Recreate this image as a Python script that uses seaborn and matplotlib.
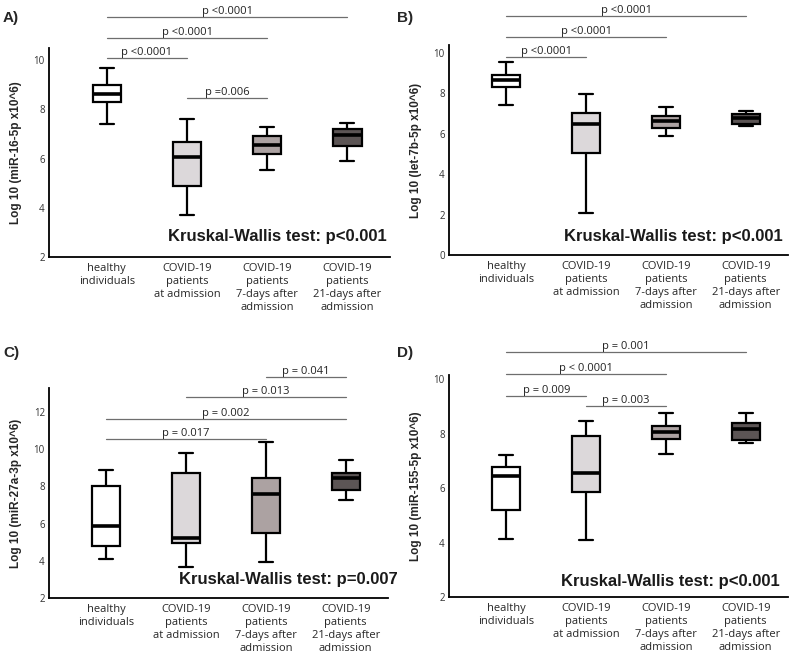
import pandas as pd
import matplotlib
matplotlib.use("Agg")
import matplotlib.pyplot as plt
import seaborn as sns

# Groups on the x axis
categories = [
    "healthy\nindividuals",
    "COVID-19\npatients\nat admission",
    "COVID-19\npatients\n7-days after\nadmission",
    "COVID-19\npatients\n21-days after\nadmission",
]
box_colors = ["#ffffff", "#dcd8da", "#aca2a2", "#5c5555"]

# Box summaries: [min, Q1, median, Q3, max] per group
mir16_boxes = [
    [7.42, 8.29, 8.64, 8.99, 9.69],
    [3.72, 4.88, 6.08, 6.68, 7.62],
    [5.52, 6.20, 6.54, 6.93, 7.27],
    [5.89, 6.52, 6.95, 7.22, 7.43],
]
let7b_boxes = [
    [7.42, 8.30, 8.65, 8.92, 9.55],
    [2.10, 5.05, 6.47, 7.03, 7.95],
    [5.87, 6.30, 6.63, 6.88, 7.33],
    [6.37, 6.50, 6.80, 7.00, 7.15],
]
mir27a_boxes = [
    [4.10, 4.78, 5.90, 8.00, 8.89],
    [3.65, 4.97, 5.24, 8.70, 9.80],
    [3.95, 5.50, 7.62, 8.48, 10.40],
    [7.30, 7.80, 8.45, 8.72, 9.40],
]
mir155_boxes = [
    [4.14, 5.19, 6.46, 6.79, 7.22],
    [4.08, 5.84, 6.54, 7.91, 8.46],
    [7.26, 7.81, 8.06, 8.28, 8.74],
    [7.66, 7.78, 8.16, 8.37, 8.74],
]

# Pairwise comparisons: (from group, to group, label)
mir16_pairs = [(0, 3, "p <0.0001"), (0, 2, "p <0.0001"), (0, 1, "p <0.0001"), (1, 2, "p =0.006")]
let7b_pairs = [(0, 3, "p <0.0001"), (0, 2, "p <0.0001"), (0, 1, "p <0.0001")]
mir27a_pairs = [(2, 3, "p = 0.041"), (1, 3, "p = 0.013"), (0, 3, "p = 0.002"), (0, 2, "p = 0.017")]
mir155_pairs = [(0, 3, "p = 0.001"), (0, 2, "p < 0.0001"), (0, 1, "p = 0.009"), (1, 2, "p = 0.003")]

# Height of each comparison line (data units)
mir16_line_y = [11.76, 10.90, 10.09, 8.46]
let7b_line_y = [11.86, 10.81, 9.82]
mir27a_line_y = [13.87, 12.80, 11.65, 10.58]
mir155_line_y = [11.01, 10.20, 9.38, 9.03]

kw_labels = [
    "Kruskal-Wallis test: p<0.001",
    "Kruskal-Wallis test: p<0.001",
    "Kruskal-Wallis test: p=0.007",
    "Kruskal-Wallis test: p<0.001",
]
y_labels = [
    "Log 10 (miR-16-5p x10^6)",
    "Log 10 (let-7b-5p x10^6)",
    "Log 10 (miR-27a-3p x10^6)",
    "Log 10 (miR-155-5p x10^6)",
]

sns.set_style("white")
plt.rcParams["font.family"] = ["Open Sans", "DejaVu Sans"]

W, H = 800, 661
fig = plt.figure(figsize=(W / 100, H / 100), dpi=100)


def px_axes(left, top, right, bottom):
    return fig.add_axes([left / W, 1 - bottom / H, (right - left) / W, (bottom - top) / H])


def make_frame(boxes):
    rows = []
    for cat, vals in zip(categories, boxes):
        for v in vals:
            rows.append({"group": cat, "value": v})
    return pd.DataFrame(rows)


def draw_panel(ax, boxes, pairs, line_y, ylim, yticks, ylabel, kw_text, kw_pos):
    df = make_frame(boxes)
    sns.boxplot(
        data=df, x="group", y="value", hue="group", order=categories,
        hue_order=categories, palette=box_colors, legend=False, ax=ax,
        width=0.35, whis=(0, 100), linecolor="black", linewidth=1.6,
        medianprops={"linewidth": 2.6}, showfliers=False, saturation=1,
    )
    ax.set_xlim(-0.72, 3.53)
    ax.set_ylim(*ylim)
    ax.set_yticks(yticks)
    ax.set_yticklabels([str(t) for t in yticks], fontsize=7, color="#333333")
    ax.set_xticks(range(len(categories)))
    ax.set_xticklabels(categories, fontsize=8, linespacing=1.28)
    ax.tick_params(axis="both", length=0, pad=3)
    ax.tick_params(axis="x", pad=4)
    ax.set_xlabel("")
    ax.set_ylabel(ylabel, fontsize=8.5, fontweight="bold",
                  family=["Liberation Sans", "DejaVu Sans"], labelpad=8)
    sns.despine(ax=ax)
    for s in ["left", "bottom"]:
        ax.spines[s].set_linewidth(1.3)
        ax.spines[s].set_color("black")

    for (a, b, label), y in zip(pairs, line_y):
        ax.plot([a, b], [y, y], color="#6e6e6e", lw=0.9, clip_on=False)
        ax.text((a + b) / 2, y, label, ha="center", va="bottom", fontsize=8,
                color="#222222", clip_on=False)

    ax.text(kw_pos[0], kw_pos[1], kw_text, transform=ax.transAxes, ha="right",
            va="center", fontsize=12, fontweight="bold",
            family=["Liberation Sans", "DejaVu Sans"], color="#1a1a1a")


ax_a = px_axes(49, 48, 390, 257)
draw_panel(ax_a, mir16_boxes, mir16_pairs, mir16_line_y, (2, 10.5), [2, 4, 6, 8, 10],
           y_labels[0], kw_labels[0], (0.99, 0.096))

ax_b = px_axes(449, 45, 788, 255)
draw_panel(ax_b, let7b_boxes, let7b_pairs, let7b_line_y, (0, 10.4), [0, 2, 4, 6, 8, 10],
           y_labels[1], kw_labels[1], (0.985, 0.086))

ax_c = px_axes(49, 388, 388, 598)
draw_panel(ax_c, mir27a_boxes, mir27a_pairs, mir27a_line_y, (2, 13.3), [2, 4, 6, 8, 10, 12],
           y_labels[2], kw_labels[2], (1.03, 0.086))

ax_d = px_axes(449, 375, 788, 597)
draw_panel(ax_d, mir155_boxes, mir155_pairs, mir155_line_y, (2, 10.15), [2, 4, 6, 8, 10],
           y_labels[3], kw_labels[3], (0.976, 0.072))

for label, (x, y) in zip(["A)", "B)", "C)", "D)"], [(3, 18), (397, 18), (3, 353), (397, 353)]):
    fig.text(x / W, 1 - y / H, label, ha="left", va="center", fontsize=11,
             fontweight="bold", family=["Liberation Sans", "DejaVu Sans"])

fig.savefig("out.png", dpi=100, facecolor="white")
